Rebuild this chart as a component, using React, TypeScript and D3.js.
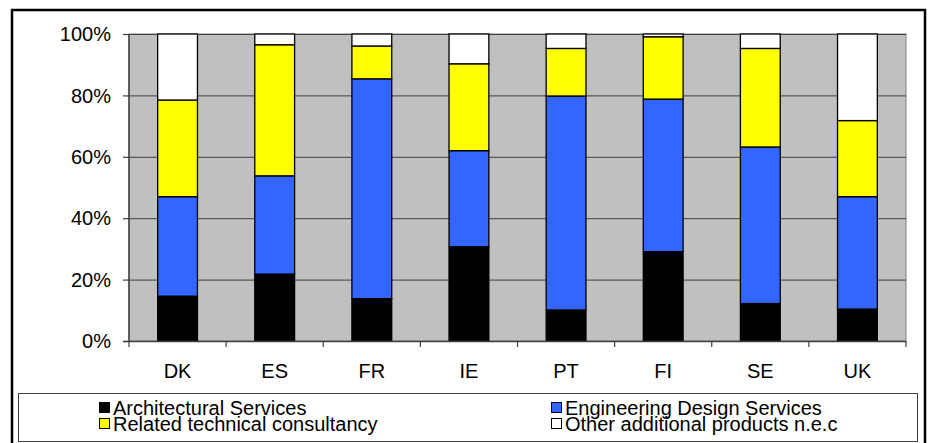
import React, { useEffect, useRef } from 'react';
import * as d3 from 'd3';

const countries = ['DK', 'ES', 'FR', 'IE', 'PT', 'FI', 'SE', 'UK'];
const seriesNames = [
  'Architectural Services',
  'Engineering Design Services',
  'Related technical consultancy',
  'Other additional products n.e.c',
];
const architectural = [14.6, 21.8, 13.8, 30.7, 10.1, 29.1, 12.2, 10.4];
const engineering = [32.4, 32.0, 71.6, 31.3, 69.7, 49.7, 51.0, 36.6];
const consultancy = [31.5, 42.7, 10.7, 28.3, 15.5, 20.3, 32.1, 24.8];
const other = [21.5, 3.5, 3.9, 9.7, 4.7, 0.9, 4.7, 28.2];
const yTicks = [0, 20, 40, 60, 80, 100];
const colors = ['#000000', '#3366FF', '#FFFF00', '#FFFFFF'];

const W = 928;
const H = 443;
const font = '"Liberation Sans", Arial, sans-serif';

export default function App() {
  const ref = useRef<SVGSVGElement>(null);

  useEffect(() => {
    const svg = d3.select(ref.current);
    svg.selectAll('*').remove();

    const left = 129, right = 906, top = 34, bottom = 341;

    const rows = countries.map((c, i) => ({
      country: c,
      s0: architectural[i],
      s1: engineering[i],
      s2: consultancy[i],
      s3: other[i],
    }));
    const stacked = d3.stack<any>()
      .keys(['s0', 's1', 's2', 's3'])
      .offset(d3.stackOffsetExpand)(rows);

    const x = d3.scaleBand().domain(countries).range([left, right])
      .paddingInner(0.59).paddingOuter(0.295);
    const y = d3.scaleLinear().domain([0, 1]).range([bottom, top]);
    const step = x.step();

    // outer frame
    svg.append('rect')
      .attr('x', 12).attr('y', 10).attr('width', 913).attr('height', 460)
      .attr('fill', '#fff').attr('stroke', '#000').attr('stroke-width', 2.5);

    // plot background
    svg.append('rect')
      .attr('x', left).attr('y', top).attr('width', right - left).attr('height', bottom - top)
      .attr('fill', '#C0C0C0').attr('stroke', '#808080').attr('stroke-width', 1);

    // gridlines
    svg.append('g').selectAll('line')
      .data(yTicks.slice(1))
      .join('line')
      .attr('x1', left).attr('x2', right)
      .attr('y1', d => y(d / 100) + 0.5).attr('y2', d => y(d / 100) + 0.5)
      .attr('stroke', '#404040').attr('stroke-width', 1);

    // bars
    svg.append('g').selectAll('g')
      .data(stacked)
      .join('g')
      .attr('fill', (d, i) => colors[i])
      .selectAll('rect')
      .data(d => d)
      .join('rect')
      .attr('x', d => x(d.data.country)!)
      .attr('width', x.bandwidth())
      .attr('y', d => y(d[1]))
      .attr('height', d => y(d[0]) - y(d[1]))
      .attr('stroke', '#000')
      .attr('stroke-width', 1.3);

    // axes lines
    svg.append('line')
      .attr('x1', left).attr('x2', left).attr('y1', top).attr('y2', bottom)
      .attr('stroke', '#404040').attr('stroke-width', 1.5);
    svg.append('line')
      .attr('x1', left - 6).attr('x2', right).attr('y1', bottom + 0.5).attr('y2', bottom + 0.5)
      .attr('stroke', '#404040').attr('stroke-width', 1.5);

    // y ticks and labels
    const yg = svg.append('g');
    yg.selectAll('line')
      .data(yTicks)
      .join('line')
      .attr('x1', left - 6).attr('x2', left)
      .attr('y1', d => y(d / 100) + 0.5).attr('y2', d => y(d / 100) + 0.5)
      .attr('stroke', '#404040').attr('stroke-width', 1.2);
    yg.selectAll('text')
      .data(yTicks)
      .join('text')
      .attr('x', 111)
      .attr('y', d => y(d / 100))
      .attr('dy', '0.36em')
      .attr('text-anchor', 'end')
      .attr('font-family', font)
      .attr('font-size', 20)
      .text(d => d + '%');

    // x ticks and labels
    const bounds = d3.range(countries.length + 1).map(i => left + i * step);
    svg.append('g').selectAll('line')
      .data(bounds)
      .join('line')
      .attr('x1', d => d).attr('x2', d => d)
      .attr('y1', bottom).attr('y2', bottom + 6)
      .attr('stroke', '#404040').attr('stroke-width', 1.2);
    svg.append('g').selectAll('text')
      .data(countries)
      .join('text')
      .attr('x', d => x(d)! + x.bandwidth() / 2)
      .attr('y', 378)
      .attr('text-anchor', 'middle')
      .attr('font-family', font)
      .attr('font-size', 20)
      .text(d => d);

    // legend
    const lg = svg.append('g');
    lg.append('rect')
      .attr('x', 18.5).attr('y', 393.5).attr('width', 899).attr('height', 48)
      .attr('fill', '#fff').attr('stroke', '#404040').attr('stroke-width', 1);
    const colX = [99, 551];
    const rowY = [402, 418];
    const items = seriesNames.map((name, i) => ({
      name,
      color: colors[i],
      cx: colX[i % 2],
      cy: rowY[Math.floor(i / 2)],
    }));
    lg.selectAll('rect.mark')
      .data(items)
      .join('rect')
      .attr('class', 'mark')
      .attr('x', d => d.cx + 0.5).attr('y', d => d.cy + 0.5)
      .attr('width', 10).attr('height', 10)
      .attr('fill', d => d.color)
      .attr('stroke', '#000').attr('stroke-width', 1);
    lg.selectAll('text')
      .data(items)
      .join('text')
      .attr('x', d => d.cx + 14)
      .attr('y', d => d.cy + 12.5)
      .attr('font-family', font)
      .attr('font-size', 20)
      .text(d => d.name);
  }, []);

  return (
    <svg
      ref={ref}
      width={W}
      height={H}
      style={{ position: 'absolute', left: 0, top: 0, background: '#fff' }}
    />
  );
}
